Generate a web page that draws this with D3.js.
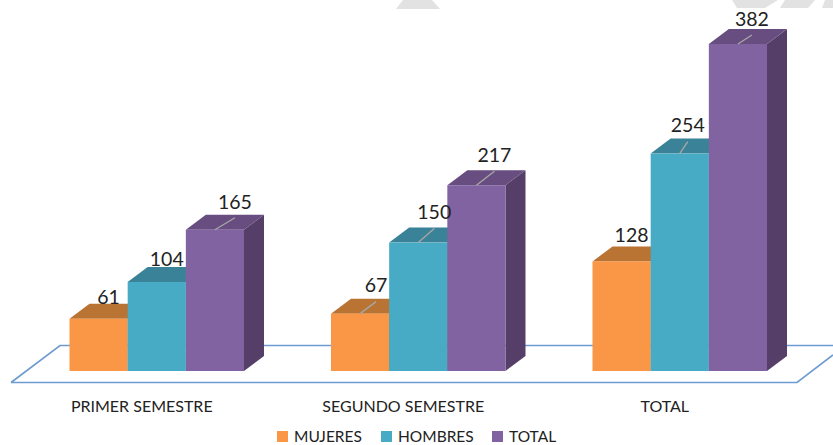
<!DOCTYPE html>
<html lang="en">
<head>
  <meta charset="utf-8">
  <title>Semestres</title>
  <style>
    html, body { margin:0; padding:0; background:#fff; }
    svg { display:block; }
    text { font-family:Lato, "Open Sans", sans-serif; fill:#222; }
    .axis text { font-size:16px; }
    .axis .domain { display:none; }
    .value { font-size:19.5px; text-anchor:middle; }
    .legend text { font-size:15.5px; }
  </style>
</head>
<body>
  <div id="chart"></div>
  <script src="https://d3js.org/d3.v7.min.js"></script>
  <script>
    var groups = ["PRIMER SEMESTRE", "SEGUNDO SEMESTRE", "TOTAL"];
    var seriesNames = ["MUJERES", "HOMBRES", "TOTAL"];
    var mujeres = [61, 67, 128];
    var hombres = [104, 150, 254];
    var total = [165, 217, 382];
    var seriesValues = [mujeres, hombres, total];

    var width = 833, height = 445;
    var depthX = 20, depthY = 15;

    var front = ["#fa9746", "#48abc6", "#8063a0"];
    var side = ["#95592a", "#2e6a7d", "#553f69"];
    var top_ = ["#b97333", "#3a8298", "#674d80"];

    // labels were moved by hand in the original, one [dx, dy] per bar
    var labelShift = [
      [[10, -22], [10, -23], [20, -28]],
      [[16, -28], [16, -30], [18, -30]],
      [[10, -26], [8, -28], [14, -25]]
    ];
    var hasLeader = [
      [false, false, true],
      [true, true, true],
      [false, true, true]
    ];

    var svg = d3.select("#chart").append("svg")
        .attr("width", width)
        .attr("height", height);

    var x0 = d3.scaleBand().domain(d3.range(groups.length)).range([69.5, 767]).paddingInner(0.3327);
    var x1 = d3.scaleBand().domain(d3.range(seriesNames.length)).range([0, x0.bandwidth()]);
    var y = d3.scaleLinear().domain([0, 382]).range([371, 44]);

    // watermark remains at the top edge
    var mark = svg.append("g").attr("fill", "#e2e2e2");
    mark.append("path").attr("d", "M403,0L432,0L440,9L396,9Z");
    mark.append("path").attr("d", "M732,0L778,0L765,8L737,8Z");
    mark.append("path").attr("d", "M785,0L815,0L808,8L780,8Z");
    mark.append("path").attr("d", "M825,0L833,0L833,8L822,8Z");

    // floor of the 3d plot
    svg.append("path")
        .attr("d", "M11,382.5L60,345.5L833,345.5M11,382.5L797,382.5L833,355")
        .attr("fill", "none")
        .attr("stroke", "#6d9bd1")
        .attr("stroke-width", 1.6);

    groups.forEach(function(g, gi){
      var group = svg.append("g").attr("transform", "translate(" + x0(gi) + ",0)");
      seriesValues.forEach(function(values, si){
        var left = x1(si), w = x1.bandwidth(), t = y(values[gi]), b = y(0);
        var bar = group.append("g");
        bar.append("path")
            .attr("fill", side[si])
            .attr("d", d3.line()([[left + w, t], [left + w + depthX, t - depthY], [left + w + depthX, b - depthY], [left + w, b]]) + "Z");
        bar.append("path")
            .attr("fill", top_[si])
            .attr("d", d3.line()([[left, t], [left + depthX, t - depthY], [left + w + depthX, t - depthY], [left + w, t]]) + "Z");
        bar.append("rect")
            .attr("x", left)
            .attr("y", t)
            .attr("width", w)
            .attr("height", b - t)
            .attr("fill", front[si]);
      });
    });

    // labels sit on top of every bar
    groups.forEach(function(g, gi){
      seriesValues.forEach(function(values, si){
        var cx = x0(gi) + x1(si) + x1.bandwidth() / 2;
        var t = y(values[gi]);
        var lx = cx + labelShift[gi][si][0];
        var ly = t + labelShift[gi][si][1];
        if(hasLeader[gi][si]){
          svg.append("line")
              .attr("x1", cx).attr("y1", t)
              .attr("x2", lx).attr("y2", ly + 16)
              .attr("stroke", "#a6a6a6")
              .attr("stroke-width", 1.4);
        }
        svg.append("text")
            .attr("class", "value")
            .attr("x", lx)
            .attr("y", ly)
            .attr("dy", "0.35em")
            .text(values[gi]);
      });
    });

    var axis = d3.axisBottom(x0)
        .tickSize(0)
        .tickPadding(0)
        .tickFormat(function(d){ return groups[d]; });

    svg.append("g")
        .attr("class", "axis")
        .attr("transform", "translate(-15,401)")
        .call(axis);

    var legendX = [277, 381, 492];
    var legend = svg.append("g").attr("class", "legend");
    seriesNames.forEach(function(name, i){
      legend.append("rect")
          .attr("x", legendX[i])
          .attr("y", 431)
          .attr("width", 11)
          .attr("height", 11)
          .attr("fill", front[i]);
      legend.append("text")
          .attr("x", legendX[i] + 17)
          .attr("y", 436.5)
          .attr("dy", "0.35em")
          .text(name);
    });
  </script>
</body>
</html>
